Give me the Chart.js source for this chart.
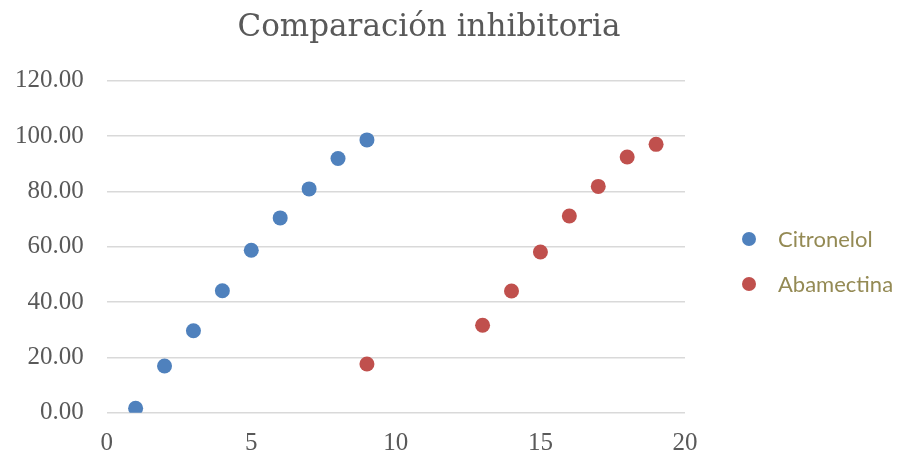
<!DOCTYPE html>
<html>
<head>
<meta charset="utf-8">
<script src="https://cdn.jsdelivr.net/npm/chart.js@4"></script>
<style>
  html, body { margin: 0; padding: 0; background: #fff; }
  #wrap { width: 899px; height: 458px; }
</style>
</head>
<body>
<div id="wrap"><canvas id="chart" width="899" height="458"></canvas></div>
<script>
// Data
const citronelolX = [1, 2, 3, 4, 5, 6, 7, 8, 9];
const citronelolY = [1.6, 16.9, 29.6, 44.1, 58.7, 70.4, 80.9, 91.9, 98.6];
const abamectinaX = [9, 13, 14, 15, 16, 17, 18, 19];
const abamectinaY = [17.6, 31.6, 44.0, 58.1, 71.1, 81.8, 92.4, 97.0];
const seriesNames = ['Citronelol', 'Abamectina'];
const chartTitle = 'Comparación inhibitoria';

// Colors
const COLORS = {
    blue: '#4F81BD',
    red: '#C0504D',
    axisText: '#595959',
    legendText: '#948A54',
    grid: '#D9D9D9'
};

const toPoints = (xs, ys) => xs.map((x, i) => ({ x: x, y: ys[i] }));

// Legend drawn to the right of the plot, Excel style
const sideLegend = {
    id: 'sideLegend',
    afterDraw(chart) {
        const c = chart.ctx;
        const x0 = chart.chartArea.right + 64;
        const y0 = 239;
        const step = 45;
        c.save();
        c.font = '22px Lato';
        c.textBaseline = 'middle';
        chart.data.datasets.forEach((ds, i) => {
            const y = y0 + i * step;
            c.fillStyle = ds.backgroundColor;
            c.beginPath();
            c.arc(x0, y, 7, 0, Math.PI * 2);
            c.fill();
            c.fillStyle = COLORS.legendText;
            c.fillText(ds.label, x0 + 29, y + 1);
        });
        c.restore();
    }
};

// Center the title the way the original does (not over the whole canvas)
const titleShift = {
    id: 'titleShift',
    afterLayout(chart) {
        chart.titleBlock.left = 0;
        chart.titleBlock.right = 858;
    }
};

const ctx = document.getElementById('chart').getContext('2d');
new Chart(ctx, {
    type: 'scatter',
    data: {
        datasets: [{
            label: seriesNames[0],
            data: toPoints(citronelolX, citronelolY),
            backgroundColor: COLORS.blue,
            borderWidth: 0,
            pointRadius: 7.5
        }, {
            label: seriesNames[1],
            data: toPoints(abamectinaX, abamectinaY),
            backgroundColor: COLORS.red,
            borderWidth: 0,
            pointRadius: 7.5
        }]
    },
    plugins: [sideLegend, titleShift],
    options: {
        responsive: false,
        animation: false,
        layout: { padding: { left: 0, right: 214, top: 0, bottom: 0 } },
        plugins: {
            title: {
                display: true,
                text: chartTitle,
                color: COLORS.axisText,
                font: { family: 'DejaVu Serif', size: 31, weight: 'normal' },
                padding: { top: 9, bottom: 34.5 }
            },
            legend: { display: false },
            tooltip: { enabled: false }
        },
        scales: {
            x: {
                type: 'linear',
                min: 0,
                max: 20,
                grid: { display: false },
                border: { display: false },
                afterFit: (scale) => { scale.height = 45.3; },
                ticks: {
                    stepSize: 5,
                    color: COLORS.axisText,
                    padding: 8,
                    font: { family: 'Liberation Serif', size: 25 }
                }
            },
            y: {
                min: 0,
                max: 120,
                grid: { color: COLORS.grid, lineWidth: 1.5, drawTicks: false },
                border: { display: false },
                afterFit: (scale) => { scale.width = 106.7; },
                ticks: {
                    stepSize: 20,
                    color: COLORS.axisText,
                    padding: 23,
                    font: { family: 'Liberation Serif', size: 25 },
                    callback: (v) => v.toFixed(2)
                }
            }
        }
    }
});
</script>
</body>
</html>
